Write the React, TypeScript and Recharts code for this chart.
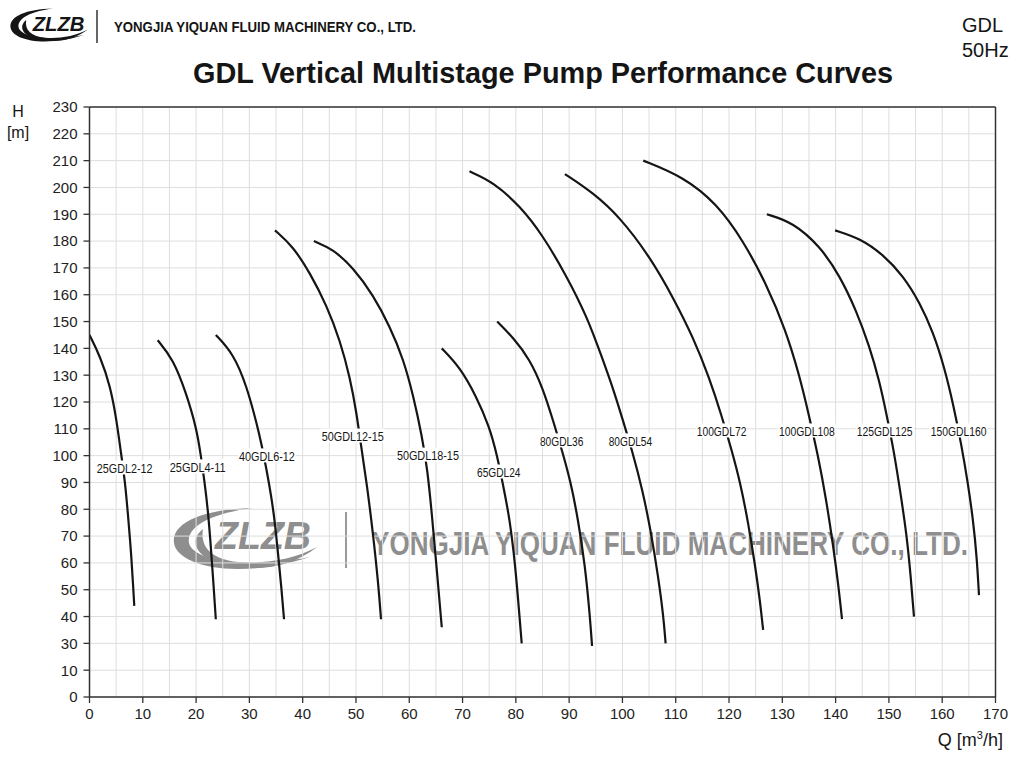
import React from "react"
import { ComposedChart, Line, Scatter, XAxis, YAxis, CartesianGrid, ReferenceLine } from "recharts"

// printed tick labels on the H axis (the chart skips "20", ticks are evenly spaced)
const Y_TICK_LABELS = [0, 10, 30, 40, 50, 60, 70, 80, 90, 100, 110, 120, 130, 140, 150, 160, 170, 180, 190, 200, 210, 220, 230]
const X_TICKS = [0, 5, 10, 15, 20, 25, 30, 35, 40, 45, 50, 55, 60, 65, 70, 75, 80, 85, 90, 95, 100, 105, 110, 115, 120, 125, 130, 135, 140, 145, 150, 155, 160, 165, 170]

// [Q m3/h, H m]
const C_25GDL2_12 = [[0, 145], [2, 137], [3.9, 126], [5.1, 113], [5.9, 101], [6.7, 90], [7.3, 76], [7.8, 64], [8.2, 51], [8.4, 44]]
const C_25GDL4_11 = [[12.8, 143], [15.7, 136], [18.2, 123], [20.1, 110], [20.9, 100], [21.6, 90], [22.2, 80], [22.7, 68], [23.2, 54], [23.7, 39]]
const C_40GDL6_12 = [[23.7, 145], [27, 138], [29.5, 126], [31.5, 111], [32.3, 104], [33.2, 95], [34.1, 85], [34.8, 75], [35.4, 63], [36, 51], [36.5, 39]]
const C_50GDL12_15 = [[34.8, 184], [38.2, 178], [41.4, 168], [44.5, 156], [47, 143], [48.9, 129], [50.1, 116], [51, 103], [52, 90], [53.2, 71], [54.2, 52], [54.7, 39]]
const C_50GDL18_15 = [[42.1, 180], [45.7, 177], [49.5, 170], [53.2, 160], [56.4, 148], [58.9, 136], [60.8, 122], [62.4, 107], [63.4, 95], [64.3, 77], [65.1, 59], [66.1, 36]]
const C_65GDL24 = [[66.1, 140], [69.5, 133], [72.6, 122], [75, 111], [76.5, 100], [77.7, 88], [78.8, 77], [79.9, 59], [80.6, 42], [81.1, 30]]
const C_80GDL36 = [[76.5, 150], [79.5, 144], [82.6, 136], [85.1, 125], [87, 113], [88.8, 101], [90.3, 90], [91.6, 77], [93, 59], [93.9, 40], [94.3, 28]]
const C_80GDL54 = [[71.3, 206], [75.8, 202], [80.8, 193], [85.1, 182], [89.5, 167], [93.3, 152], [96.1, 137], [98.6, 123], [100.4, 111], [101.8, 102], [103.8, 87], [105.4, 71], [106.7, 55], [107.7, 40], [108.1, 30]]
const C_100GDL72 = [[89.2, 205], [94.5, 198], [99.5, 189], [105.2, 174], [109.5, 159], [113.3, 144], [116.3, 129], [118.6, 115], [120.5, 102], [122.1, 90], [123.6, 75], [124.9, 59], [125.8, 46], [126.4, 35]]
const C_100GDL108 = [[103.9, 210], [111.4, 204], [117.7, 194], [122.7, 180], [127, 164], [130.6, 147], [133.2, 130], [135, 115], [136.7, 100], [138.2, 84], [139.5, 67], [140.5, 52], [141.2, 39]]
const C_125GDL125 = [[127.1, 190], [132, 187], [137.1, 178], [140.8, 167], [143.9, 154], [146.3, 141], [148.2, 128], [149.6, 115], [150.9, 102], [152.1, 87], [153.3, 71], [154.1, 55], [154.7, 40]]
const C_150GDL160 = [[139.9, 184], [144.6, 181], [148.9, 175], [152.7, 167], [155.8, 157], [158.3, 146], [160.4, 133], [162.2, 118], [163.6, 104], [164.8, 90], [165.8, 76], [166.5, 62], [166.9, 48]]

const PUMP_NAMES = ["25GDL2-12", "25GDL4-11", "40GDL6-12", "50GDL12-15", "50GDL18-15", "65GDL24", "80GDL36", "80GDL54", "100GDL72", "100GDL108", "125GDL125", "150GDL160"]
const PUMP_CURVES = [C_25GDL2_12, C_25GDL4_11, C_40GDL6_12, C_50GDL12_15, C_50GDL18_15, C_65GDL24, C_80GDL36, C_80GDL54, C_100GDL72, C_100GDL108, C_125GDL125, C_150GDL160]
// where each name sits on the chart [Q, H]
const LABEL_AT = [[6.6, 95.4], [20.3, 95.8], [33.3, 99.9], [49.4, 107.3], [63.5, 100.2], [76.8, 93.9], [88.6, 105.5], [101.5, 105.5], [118.6, 109.2], [134.6, 109.2], [149.2, 109.2], [163.1, 109.2]]

const FONT = "'Liberation Sans', Arial, sans-serif"
const INK = "#151515"

// H (in printed units) -> position on the evenly spaced tick axis
const toAxis = (h: number) => {
  for (let i = 0; i < Y_TICK_LABELS.length - 1; i++) {
    const a = Y_TICK_LABELS[i], b = Y_TICK_LABELS[i + 1]
    if (h <= b) return i + (h - a) / (b - a)
  }
  return Y_TICK_LABELS.length - 1
}
const Y_POS = Y_TICK_LABELS.map((_, i) => i)

const series = PUMP_CURVES.map((c, i) => ({
  name: PUMP_NAMES[i],
  data: c.map(([q, h]) => ({ q, y: toAxis(h) })),
}))
const labelData = LABEL_AT.map(([q, h], i) => ({ q, y: toAxis(h), name: PUMP_NAMES[i] }))

const PumpLabel = (props: any) => {
  const { cx, cy, payload } = props
  if (cx == null || !payload) return null
  const w = payload.name.length * 6.2
  return (
    <g>
      <rect x={cx - w / 2 - 1} y={cy - 7.5} width={w + 2} height={14} fill="#fff" />
      <text
        x={cx - w / 2}
        y={cy}
        dy="0.36em"
        fontSize={13}
        fontFamily={FONT}
        fill={INK}
        textLength={w}
        lengthAdjust="spacingAndGlyphs"
      >
        {payload.name}
      </text>
    </g>
  )
}

const XTick = (props: any) => {
  const { x, y, payload } = props
  if (payload.value % 10 !== 0) return <g />
  return (
    <g>
      <line x1={x} x2={x} y1={y - 11} y2={y - 5} stroke="#333" strokeWidth={1.3} />
      <text x={x} y={y} dy="0.71em" textAnchor="middle" fontSize={15} fontFamily={FONT} fill="#222">
        {payload.value}
      </text>
    </g>
  )
}

// ZLZB swoosh logo, drawn in a 144 x 71 box
const Logo = ({ x, y, s, color }: { x: number; y: number; s: number; color: string }) => (
  <g transform={`translate(${x},${y}) scale(${s})`} fill={color}>
    <path d="M 80 1 C 30 2, -2 16, 1 36 C 4 58, 60 74, 137 50 C 70 63, 20 53, 16 36 C 13 19, 40 6, 80 1 Z" />
    <path d="M 30 22 C 14 34, 22 57, 70 61 C 100 63, 125 55, 144 40 C 120 53, 90 57, 65 55 C 38 52, 27 40, 30 22 Z" />
    <text x={42} y={42} fontSize={38} fontWeight="bold" fontStyle="italic" fontFamily={FONT} textLength={96} lengthAdjust="spacingAndGlyphs">
      ZLZB
    </text>
  </g>
)

export default function App() {
  return (
    <div style={{ position: "absolute", left: 0, top: 0, width: 1024, height: 768, background: "#fff", overflow: "hidden" }}>
      <svg width={1024} height={768} style={{ position: "absolute", left: 0, top: 0 }}>
        <Logo x={10} y={8} s={0.54} color={INK} />
        <line x1={97} x2={97} y1={10} y2={43} stroke="#333" strokeWidth={1.5} />
        <text x={114} y={31.5} fontSize={15.5} fontWeight="bold" fontFamily={FONT} fill={INK} textLength={302} lengthAdjust="spacingAndGlyphs">
          YONGJIA YIQUAN FLUID MACHINERY CO., LTD.
        </text>
        <text x={193} y={83} fontSize={30} fontWeight="bold" fontFamily={FONT} fill={INK} textLength={700} lengthAdjust="spacingAndGlyphs">
          GDL Vertical Multistage Pump Performance Curves
        </text>
        <text x={962} y={31.5} fontSize={20} fontFamily={FONT} fill={INK}>GDL</text>
        <text x={962} y={56.5} fontSize={20} fontFamily={FONT} fill={INK}>50Hz</text>
        <text x={18} y={117} fontSize={16} textAnchor="middle" fontFamily={FONT} fill={INK}>H</text>
        <text x={18} y={138} fontSize={16} textAnchor="middle" fontFamily={FONT} fill={INK}>[m]</text>
        <text x={1003} y={746} fontSize={18} textAnchor="end" fontFamily={FONT} fill={INK}>
          Q [m<tspan dy={-7} fontSize={11}>3</tspan><tspan dy={7}>/h]</tspan>
        </text>
        {/* watermark */}
        <Logo x={173} y={507} s={1} color="#8e8e8e" />
        <line x1={346} x2={346} y1={512} y2={568} stroke="#9a9a9a" strokeWidth={2} />
        <text x={372} y={555} fontSize={34} fontWeight="bold" fontFamily={FONT} fill="#8e8e8e" textLength={596} lengthAdjust="spacingAndGlyphs">
          YONGJIA YIQUAN FLUID MACHINERY CO., LTD.
        </text>
      </svg>
      <div style={{ position: "absolute", left: 0, top: 0 }}>
        <ComposedChart width={1024} height={768} margin={{ top: 107, right: 28.5, bottom: 41, left: 29.5 }}>
          <CartesianGrid stroke="#dedede" strokeWidth={1} />
          <XAxis
            type="number"
            dataKey="q"
            domain={[0, 170]}
            ticks={X_TICKS}
            interval={0}
            allowDataOverflow
            height={30}
            tickSize={6}
            tickMargin={5}
            tickLine={false}
            tick={<XTick />}
            axisLine={{ stroke: "#333", strokeWidth: 1.5 }}
          />
          <YAxis
            type="number"
            dataKey="y"
            domain={[0, 22]}
            ticks={Y_POS}
            interval={0}
            allowDataOverflow
            width={60}
            tickSize={6}
            tickMargin={6}
            tickFormatter={(i: number) => String(Y_TICK_LABELS[i])}
            tick={{ fontSize: 15, fill: "#222", fontFamily: FONT }}
            tickLine={{ stroke: "#333", strokeWidth: 1.3 }}
            axisLine={{ stroke: "#333", strokeWidth: 1.5 }}
          />
          <ReferenceLine y={22} stroke="#333" strokeWidth={1.5} />
          <ReferenceLine x={170} stroke="#333" strokeWidth={1.5} />
          {series.map(s => (
            <Line
              key={s.name}
              data={s.data}
              dataKey="y"
              type="basis"
              stroke={INK}
              strokeWidth={2.2}
              dot={false}
              activeDot={false}
              isAnimationActive={false}
            />
          ))}
          <Scatter data={labelData} dataKey="y" shape={<PumpLabel />} isAnimationActive={false} />
        </ComposedChart>
      </div>
    </div>
  )
}
